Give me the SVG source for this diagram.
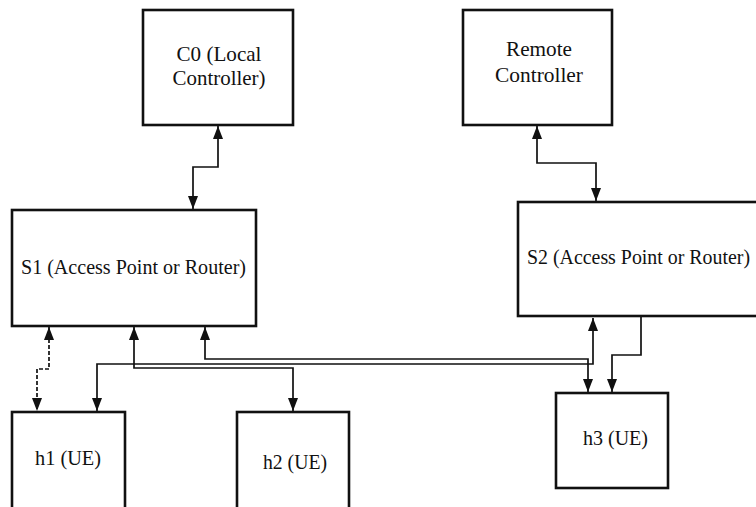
<svg xmlns="http://www.w3.org/2000/svg" width="756" height="507" viewBox="0 0 756 507">
<style>
.box{fill:#fff;stroke:#111;stroke-width:2.6}
.lbl{font-family:"Liberation Serif","Times New Roman",serif;font-size:22px;fill:#111}
.c{fill:none;stroke:#111;stroke-width:1.7}
.d{stroke-dasharray:4,2}
</style>
<defs>
<marker id="ah" markerUnits="userSpaceOnUse" markerWidth="13" markerHeight="10" refX="13" refY="5" orient="auto-start-reverse" viewBox="0 0 13 10">
<path d="M0,0 L13,5 L0,10 z" fill="#111"/>
</marker>
</defs>
<rect width="756" height="507" fill="#fff"/>
<g id="connectors">
<polyline class="c" points="218,126 218,167 193,167 193,209" marker-start="url(#ah)" marker-end="url(#ah)"/>
<polyline class="c" points="537,126 537,163 596,163 596,201" marker-start="url(#ah)" marker-end="url(#ah)"/>
<polyline class="c d" points="49,327 49,369 37,369 37,411" marker-start="url(#ah)" marker-end="url(#ah)"/>
<polyline class="c" points="134,327 134,368 293,368 293,411" marker-start="url(#ah)" marker-end="url(#ah)"/>
<polyline class="c" points="205,327 205,359 588,359 588,392" marker-start="url(#ah)" marker-end="url(#ah)"/>
<polyline class="c" points="97,411 97,364 593,364 593,318" marker-start="url(#ah)" marker-end="url(#ah)"/>
<polyline class="c" points="641,317 641,355 612,355 612,392" marker-end="url(#ah)"/>
</g>
<g id="C0">
<rect class="box" x="143" y="10" width="150" height="115"/>
<text class="lbl" x="219" y="61" text-anchor="middle" textLength="85" lengthAdjust="spacingAndGlyphs">C0 (Local</text>
<text class="lbl" x="219" y="85" text-anchor="middle" textLength="93" lengthAdjust="spacingAndGlyphs">Controller)</text>
</g>
<g id="RemoteController">
<rect class="box" x="463" y="10" width="149" height="115"/>
<text class="lbl" x="539" y="56" text-anchor="middle" textLength="66" lengthAdjust="spacingAndGlyphs">Remote</text>
<text class="lbl" x="539" y="82" text-anchor="middle" textLength="88" lengthAdjust="spacingAndGlyphs">Controller</text>
</g>
<g id="S1">
<rect class="box" x="12" y="210" width="244" height="116"/>
<text class="lbl" x="133.5" y="274" text-anchor="middle" textLength="225" lengthAdjust="spacingAndGlyphs">S1 (Access Point or Router)</text>
</g>
<g id="S2">
<rect class="box" x="518" y="202" width="242" height="114"/>
<text class="lbl" x="638.5" y="264" text-anchor="middle" textLength="223" lengthAdjust="spacingAndGlyphs">S2 (Access Point or Router)</text>
</g>
<g id="h1">
<rect class="box" x="12" y="412" width="113" height="100"/>
<text class="lbl" x="68" y="465" text-anchor="middle" textLength="66" lengthAdjust="spacingAndGlyphs">h1 (UE)</text>
</g>
<g id="h2">
<rect class="box" x="237" y="412" width="112" height="100"/>
<text class="lbl" x="295" y="469" text-anchor="middle" textLength="64" lengthAdjust="spacingAndGlyphs">h2 (UE)</text>
</g>
<g id="h3">
<rect class="box" x="556" y="393" width="112" height="95"/>
<text class="lbl" x="615.5" y="445" text-anchor="middle" textLength="65" lengthAdjust="spacingAndGlyphs">h3 (UE)</text>
</g>
</svg>
